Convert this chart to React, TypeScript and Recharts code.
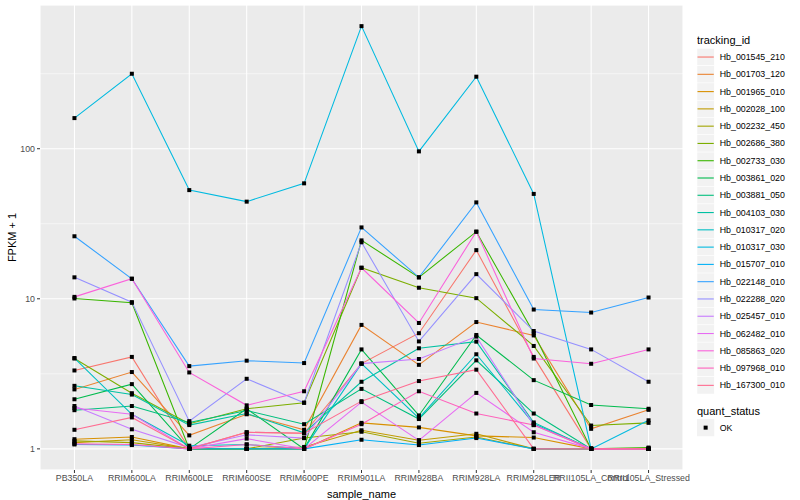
import React from "react";
import { CartesianGrid, Label, Line, LineChart, XAxis, YAxis } from "recharts";

const FONT = "'Liberation Sans', Arial, Helvetica, sans-serif";

const categories = [
  "PB350LA",
  "RRIM600LA",
  "RRIM600LE",
  "RRIM600SE",
  "RRIM600PE",
  "RRIM901LA",
  "RRIM928BA",
  "RRIM928LA",
  "RRIM928LER",
  "RRII105LA_Control",
  "RRII105LA_Stressed",
];

const trackingIds = [
  "Hb_001545_210",
  "Hb_001703_120",
  "Hb_001965_010",
  "Hb_002028_100",
  "Hb_002232_450",
  "Hb_002686_380",
  "Hb_002733_030",
  "Hb_003861_020",
  "Hb_003881_050",
  "Hb_004103_030",
  "Hb_010317_020",
  "Hb_010317_030",
  "Hb_015707_010",
  "Hb_022148_010",
  "Hb_022288_020",
  "Hb_025457_010",
  "Hb_062482_010",
  "Hb_085863_020",
  "Hb_097968_010",
  "Hb_167300_010",
];

// ggplot default hue palette, 20 levels
const colors = [
  "#F8766D", "#EA8331", "#D89000", "#C09B00", "#A3A500",
  "#7CAE00", "#39B600", "#00BB4E", "#00BF7D", "#00C1A3",
  "#00BFC4", "#00BAE0", "#00B0F6", "#35A2FF", "#9590FF",
  "#C77CFF", "#E76BF3", "#FA62DB", "#FF62BC", "#FF6C91",
];

// FPKM + 1, one value per sample
const hb_001545_210 = [3.33, 4.1, 1.0, 1.29, 1.27, 3.7, 5.9, 21.1, 4.1, 1.0, 1.0];
const hb_001703_120 = [2.49, 3.25, 1.23, 1.7, 1.34, 6.7, 3.63, 7.0, 5.7, 1.36, 1.82];
const hb_001965_010 = [1.16, 1.2, 1.0, 1.0, 1.0, 1.49, 1.39, 1.22, 1.19, 1.0, 1.0];
const hb_002028_100 = [1.1, 1.15, 1.0, 1.0, 1.03, 1.33, 1.14, 1.26, 1.0, 1.0, 1.0];
const hb_002232_450 = [1.13, 1.1, 1.0, 1.0, 1.18, 1.3, 1.09, 1.2, 1.0, 1.0, 1.0];
const hb_002686_380 = [4.0, 2.35, 1.47, 1.85, 2.03, 16.1, 11.85, 10.1, 4.85, 1.43, 1.49];
const hb_002733_030 = [10.05, 9.4, 1.0, 1.0, 1.0, 24.5, 13.9, 28.0, 5.9, 1.0, 1.02];
const hb_003861_020 = [2.14, 2.7, 1.0, 1.85, 1.0, 4.6, 1.67, 5.74, 2.87, 1.96, 1.85];
const hb_003881_050 = [1.81, 1.93, 1.5, 1.8, 1.46, 2.51, 1.58, 3.89, 1.72, 1.0, 1.0];
const hb_004103_030 = [2.63, 2.3, 1.44, 1.72, 1.28, 2.8, 4.68, 5.18, 1.5, 1.0, 1.0];
const hb_010317_020 = [4.03, 1.7, 1.05, 1.07, 1.0, 3.7, 1.6, 4.27, 1.47, 1.0, 1.0];
const hb_010317_030 = [160, 316, 53, 44.4, 58.8, 656, 96, 302, 50, 1.0, 1.55];
const hb_015707_010 = [1.07, 1.06, 1.0, 1.0, 1.0, 1.15, 1.06, 1.18, 1.0, 1.0, 1.0];
const hb_022148_010 = [26.1, 13.6, 3.56, 3.87, 3.73, 29.9, 13.9, 43.9, 8.48, 8.1, 10.2];
const hb_022288_020 = [13.9, 9.5, 1.53, 2.93, 2.03, 23.8, 5.2, 14.6, 6.1, 4.6, 2.8];
const hb_025457_010 = [1.93, 1.35, 1.02, 1.24, 1.18, 3.7, 3.97, 5.6, 1.44, 1.0, 1.0];
const hb_062482_010 = [1.87, 1.7, 1.0, 1.17, 1.0, 2.05, 1.14, 2.36, 1.29, 1.0, 1.0];
const hb_085863_020 = [10.3, 13.6, 3.23, 1.95, 2.42, 16.1, 6.9, 28.0, 4.0, 3.69, 4.6];
const hb_097968_010 = [1.08, 1.07, 1.0, 1.07, 1.0, 1.46, 2.42, 1.72, 1.44, 1.0, 1.0];
const hb_167300_010 = [1.34, 1.62, 1.0, 1.29, 1.27, 2.08, 2.83, 3.37, 1.0, 1.0, 1.0];

const seriesValues = [
  hb_001545_210, hb_001703_120, hb_001965_010, hb_002028_100, hb_002232_450,
  hb_002686_380, hb_002733_030, hb_003861_020, hb_003881_050, hb_004103_030,
  hb_010317_020, hb_010317_030, hb_015707_010, hb_022148_010, hb_022288_020,
  hb_025457_010, hb_062482_010, hb_085863_020, hb_097968_010, hb_167300_010,
];

const majorTicks = [1, 10, 100];
const minorTicks = [Math.sqrt(10), Math.sqrt(1000), Math.sqrt(100000)];

const rows = categories.map((name, i) => {
  const row: Record<string, number | string> = { idx: i, name };
  trackingIds.forEach((id, k) => {
    row[id] = seriesValues[k][i];
  });
  return row;
});

// ggplot-style 5% expansion of the log range
const allValues = seriesValues.flat();
const logLo = Math.log10(Math.min(...allValues));
const logHi = Math.log10(Math.max(...allValues));
const pad = (logHi - logLo) * 0.05;
const yDomain = [Math.pow(10, logLo - pad), Math.pow(10, logHi + pad)];

const tickStyle = { fill: "#4D4D4D", fontSize: 8.8, fontFamily: FONT };

const LEGEND_X = 697;
const KEY = 17.28;
const KEY_TOP = 48.4;

function Legend() {
  const statusTop = KEY_TOP + trackingIds.length * KEY + 25;
  return (
    <svg width={103} height={500} style={{ position: "absolute", left: LEGEND_X, top: 0 }} fontFamily={FONT}>
      <text x={0} y={40} dominantBaseline="central" fontSize={11} fill="#000">
        tracking_id
      </text>
      {trackingIds.map((id, i) => {
        const y = KEY_TOP + i * KEY;
        return (
          <g key={id}>
            <rect x={0} y={y} width={KEY} height={KEY} fill="#F2F2F2" stroke="#FFFFFF" strokeWidth={0.5} />
            <line x1={0.5} x2={KEY - 0.5} y1={y + KEY / 2} y2={y + KEY / 2} stroke={colors[i]} strokeWidth={1.1} />
            <text x={KEY + 5.5} y={y + KEY / 2} dominantBaseline="central" fontSize={8.8} fill="#000">
              {id}
            </text>
          </g>
        );
      })}
      <text x={0} y={statusTop - 8.5} dominantBaseline="central" fontSize={11} fill="#000">
        quant_status
      </text>
      <rect x={0} y={statusTop} width={KEY} height={KEY} fill="#F2F2F2" />
      <rect x={KEY / 2 - 2} y={statusTop + KEY / 2 - 2} width={4} height={4} fill="#000" />
      <text x={KEY + 5.5} y={statusTop + KEY / 2} dominantBaseline="central" fontSize={8.8} fill="#000">
        OK
      </text>
    </svg>
  );
}

export default function App() {
  return (
    <div style={{ position: "absolute", left: 0, top: 0, width: 800, height: 500, background: "#FFFFFF" }}>
      <LineChart width={800} height={500} data={rows} margin={{ top: 5, right: 117, bottom: 0, left: 0 }}>
        <CartesianGrid fill="#EBEBEB" stroke="#FFFFFF" strokeWidth={1.07} />
        <CartesianGrid yAxisId="minor" vertical={false} stroke="#FFFFFF" strokeWidth={0.53} fill="none" />
        <XAxis
          type="number"
          dataKey="idx"
          domain={[-0.6, categories.length - 1 + 0.6]}
          ticks={categories.map((_, i) => i)}
          interval={0}
          tickFormatter={(v: number) => categories[v]}
          tick={tickStyle}
          tickLine={{ stroke: "#333333" }}
          tickSize={3}
          axisLine={false}
          height={30}
        >
          <Label value="sample_name" position="insideBottom" offset={2} style={{ fontSize: 11, fontFamily: FONT, fill: "#000" }} />
        </XAxis>
        <YAxis
          type="number"
          scale="log"
          domain={yDomain}
          allowDataOverflow
          ticks={majorTicks}
          tickFormatter={(v: number) => String(v)}
          tick={tickStyle}
          tickLine={{ stroke: "#333333" }}
          tickSize={3}
          axisLine={false}
          width={40}
        >
          <Label
            content={(props: any) => {
              const vb = props.viewBox || { x: 0, y: 0, width: 40, height: 465 };
              const cx = vb.x + 12;
              const cy = vb.y + vb.height / 2;
              return (
                <text
                  x={cx}
                  y={cy}
                  transform={`rotate(-90, ${cx}, ${cy})`}
                  textAnchor="middle"
                  dominantBaseline="central"
                  style={{ fontSize: 11, fontFamily: FONT, fill: "#000" }}
                >
                  FPKM + 1
                </text>
              );
            }}
          />
        </YAxis>
        <YAxis yAxisId="minor" type="number" scale="log" domain={yDomain} allowDataOverflow ticks={minorTicks} hide />
        {trackingIds.map((id, k) => (
          <Line
            key={id}
            dataKey={id}
            type="linear"
            stroke={colors[k]}
            strokeWidth={1.07}
            dot={false}
            activeDot={false}
            isAnimationActive={false}
          />
        ))}
        {trackingIds.map((id) => (
          <Line
            key={`${id}-pts`}
            dataKey={id}
            type="linear"
            stroke="none"
            legendType="none"
            activeDot={false}
            isAnimationActive={false}
            dot={(p: any) => (
              <rect key={`${id}-${p.index}`} x={p.cx - 2} y={p.cy - 2} width={4} height={4} fill="#000000" />
            )}
          />
        ))}
      </LineChart>
      <Legend />
    </div>
  );
}
